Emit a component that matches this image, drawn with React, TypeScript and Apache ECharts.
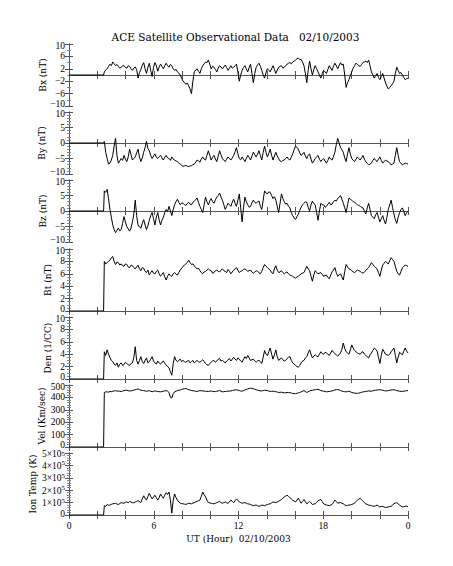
import React, { useEffect, useRef } from "react";
import * as echarts from "echarts";

// Time grid: flat zero until the data start, then samples every ~0.1 h
const startHour = 2.5;
const endHour = 24;
const flatEndHour = 2.45;

const xTickLabels = ["0", "6", "12", "18", "0"];

const bx = [
  1.0, 1.6, 2.0, 2.8, 3.5, 3.0, 4.2, 3.6, 3.0, 3.4, 2.8, 2.2, 2.5, 2.9, 3.0, 2.4, 2.2, 3.0, 2.8, 2.0,
  1.5, 2.2, 2.6, 1.8, -1.0, 0.8, 1.8, 3.2, 4.0, 2.0, 0.5, 2.5, 3.8, 1.5, -0.5, 2.5, 4.0, 3.0, 1.2, 2.6,
  3.5, 2.8, 2.0, 3.0, 3.8, 3.0, 2.5, 3.4, 3.0, 2.0, 1.5, 1.8, 1.0, 0.6, 0.0, -1.0, -2.0, -2.4, -3.0, -2.6,
  -3.5, -4.5, -6.0, -2.0, 1.0, 1.6, 2.0, 1.2, 0.5, 2.0, 3.0, 3.6, 4.2, 4.0, 4.8, 3.5, 2.0, 2.8, 2.5, 1.8,
  1.0, 2.2, 3.0, 2.6, 2.0, 2.6, 3.2, 2.4, 1.5, 2.2, 3.0, 2.2, 2.5, 3.0, 3.5, 1.0, -2.0, 0.0, 1.5, 2.4,
  3.0, 2.0, 1.0, 2.4, 3.5, 0.5, -2.5, 0.5, 2.5, 3.2, 3.8, 2.8, 1.5, 0.0, -1.0, 0.8, 2.0, 1.6, 1.0, 2.0,
  3.0, 1.8, 0.5, 1.6, 2.5, 2.8, 3.0, 2.2, 2.5, 3.0, 3.5, 3.8, 4.0, 3.6, 4.2, 4.5, 4.8, 5.2, 5.5, 5.0,
  5.0, 4.2, 3.0, 0.5, -2.5, 1.5, 4.5, 2.0, 0.0, 1.8, 3.0, 2.0, 1.0, 0.0, -1.0, 0.4, 1.5, 1.0, 0.5, 1.8,
  3.0, 2.2, 1.5, 2.8, 3.8, 3.0, 2.0, 3.0, 4.0, 3.2, 3.5, 0.0, -4.0, -2.5, -1.5, -0.2, 1.0, 2.2, 3.0, 3.8,
  3.5, 3.0, 2.8, 3.4, 4.0, 4.2, 4.5, 4.0, 4.8, 3.0, 1.0, 0.0, -1.0, -0.2, 0.5, -0.8, -1.5, -0.5, 0.5, -1.0,
  -2.5, -3.6, -4.5, -4.0, -3.5, -2.8, -2.0, 0.5, 2.5, 1.5, 0.5, 0.8, 0.0, -0.8, -1.5, -1.2, -1.0,
];

const by = [
  0.5, -3.0, -5.0, -6.8, -6.5, -5.5, -4.0, -1.0, 1.5, -4.0, -6.5, -5.8, -5.0, -5.6, -4.0, -5.2, -6.0, -4.5, -2.0, -3.8,
  -5.5, -5.0, -4.5, -3.2, -2.0, -4.5, -6.0, -4.8, -3.0, -1.5, 0.5, -1.8, -2.5, -4.0, -5.0, -4.2, -3.5, -4.6, -5.0, -4.4,
  -4.0, -4.8, -5.5, -4.6, -4.0, -4.8, -5.0, -5.6, -4.5, -5.2, -5.5, -5.8, -6.0, -6.5, -6.8, -7.2, -7.5, -7.4, -7.2, -7.5,
  -7.6, -7.4, -7.3, -7.0, -6.8, -6.2, -5.5, -5.8, -6.2, -5.2, -4.5, -5.2, -5.5, -4.0, -2.5, -4.0, -5.5, -4.6, -4.0, -5.2,
  -6.0, -4.2, -2.5, -3.8, -5.0, -5.6, -6.0, -5.2, -4.5, -5.0, -5.5, -4.8, -4.0, -2.8, -1.5, -3.5, -5.0, -5.4, -4.5, -5.2,
  -6.0, -5.0, -4.0, -4.6, -5.5, -4.2, -3.0, -3.8, -4.5, -3.6, -2.5, -4.0, -5.5, -3.0, -1.0, -3.0, -4.5, -3.4, -2.0, -4.0,
  -5.5, -4.2, -3.0, -4.2, -5.0, -5.8, -6.0, -5.6, -5.5, -5.0, -4.5, -5.2, -5.5, -4.6, -3.5, -2.2, -1.0, -1.4, -2.0, -3.2,
  -4.0, -3.6, -3.0, -4.2, -5.0, -4.0, -3.5, -5.2, -6.5, -5.8, -5.0, -4.4, -4.0, -5.2, -6.0, -5.4, -5.0, -5.8, -6.5, -5.6,
  -4.5, -5.2, -5.5, -4.4, -3.0, -0.5, 1.5, 0.0, -1.5, -2.2, -3.0, -4.8, -6.0, -3.5, -1.5, -3.6, -5.0, -5.6, -6.0, -5.2,
  -4.5, -5.0, -5.5, -4.8, -4.0, -5.2, -6.0, -6.6, -7.0, -6.8, -6.5, -5.6, -5.0, -5.6, -6.0, -5.2, -4.5, -5.6, -6.5, -6.0,
  -5.5, -5.8, -6.0, -6.6, -7.0, -6.8, -6.5, -4.0, -1.5, -4.0, -6.0, -6.6, -7.0, -6.8, -6.5, -6.6, -6.8,
];

const bz = [
  6.5, 6.0, 7.0, 4.0, 0.5, -2.0, -4.5, -6.0, -7.0, -6.2, -5.5, -6.4, -6.0, -4.0, -1.8, -3.5, -5.0, -5.8, -6.5, -5.5,
  -3.5, -1.0, 3.5, -1.5, -4.5, -5.2, -5.5, -4.0, -2.8, -4.5, -6.0, -4.8, -3.0, -1.5, -0.5, -2.5, -4.5, -2.0, -0.5, -2.8,
  -4.5, -3.0, -2.0, -0.5, 0.5, -0.2, 1.5, 0.0, -1.5, 0.5, 2.0, 3.0, 3.8, 2.8, 2.0, 2.6, 2.5, 2.0, 1.8, 2.4,
  2.8, 2.2, 2.0, 2.8, 3.2, 3.6, 4.2, 2.8, 1.5, 0.5, -0.5, 2.0, 4.5, 3.0, 2.0, 3.2, 4.0, 3.0, 2.5, 3.6,
  4.5, 5.0, 5.8, 4.5, 3.5, 2.0, 0.5, 1.5, 2.5, 2.0, 1.5, 2.8, 3.8, 2.5, 1.5, 3.5, 5.5, 1.0, -3.5, 1.0,
  4.5, 3.0, 2.0, 1.2, 1.5, 2.6, 3.5, 2.8, 2.5, 3.0, 3.2, 1.5, 0.5, 3.5, 6.5, 5.8, 5.5, 6.2, 6.0, 5.0,
  4.0, 4.6, 3.5, 1.5, -0.5, 2.5, 5.5, 4.0, 3.0, 2.2, 2.5, 1.5, 1.0, -0.5, -1.5, -2.2, -2.7, -1.8, -1.0, 0.2,
  1.2, 2.0, 2.5, 3.0, 2.8, 1.2, 0.0, 2.0, 3.2, 2.4, 2.0, -0.5, -3.0, 0.0, 2.5, 2.0, 2.0, 1.2, 1.5, 2.2,
  2.8, 2.0, 2.2, 3.0, 3.5, 3.2, 4.0, 4.5, 5.0, 3.8, 2.5, 1.0, -0.5, 2.0, 4.2, 3.8, 3.5, 3.0, 2.8, 2.4,
  2.0, 1.8, 1.5, 1.2, 1.0, 0.0, -1.0, 1.0, 2.5, 0.5, -1.5, -2.0, -2.5, -1.2, -0.5, -2.0, -3.5, -2.5, -1.5, -3.0,
  -4.2, -2.0, 0.5, 2.0, 3.5, 1.2, -1.0, -2.8, -4.0, -2.0, -0.5, 0.5, 1.0, -0.2, -1.5, -0.6, 0.0,
];

const bt = [
  8.0, 7.6, 7.8, 8.0, 8.2, 8.6, 8.8, 8.0, 7.5, 7.9, 7.8, 7.4, 7.6, 7.3, 7.2, 7.6, 7.5, 7.1, 7.0, 7.4,
  7.3, 7.0, 6.8, 7.1, 7.4, 6.8, 6.5, 7.0, 6.9, 6.4, 6.2, 6.6, 5.8, 6.2, 6.5, 6.1, 6.0, 6.4, 6.6, 6.0,
  5.6, 5.9, 6.2, 5.5, 5.0, 5.6, 6.0, 5.7, 5.6, 6.0, 6.2, 5.9, 5.8, 6.2, 6.6, 6.9, 7.2, 7.4, 7.6, 7.8,
  8.2, 7.8, 7.5, 7.6, 7.3, 7.0, 6.8, 6.9, 6.5, 6.2, 6.0, 6.3, 6.4, 6.6, 6.8, 6.6, 6.5, 6.1, 6.2, 6.5,
  6.6, 6.4, 6.3, 6.6, 6.8, 6.5, 6.4, 6.2, 6.7, 6.4, 6.0, 6.3, 6.6, 6.8, 7.0, 6.6, 6.2, 6.4, 6.5, 6.7,
  6.8, 6.6, 6.4, 6.5, 6.6, 6.3, 6.1, 6.3, 6.5, 6.4, 6.2, 6.0, 6.4, 7.0, 7.5, 7.2, 7.0, 6.8, 6.6, 6.2,
  6.0, 6.8, 7.3, 6.6, 6.2, 6.3, 6.5, 6.2, 6.0, 6.2, 6.3, 6.0, 5.8, 5.7, 5.6, 5.4, 5.3, 5.5, 5.6, 5.8,
  6.0, 6.1, 6.2, 6.7, 7.2, 6.8, 6.5, 5.6, 4.8, 5.8, 6.5, 6.2, 6.0, 6.1, 6.2, 5.9, 5.6, 5.7, 5.8, 5.4,
  5.2, 5.8, 6.3, 6.6, 7.0, 6.2, 5.6, 5.8, 6.0, 5.5, 5.0, 6.4, 7.5, 7.1, 6.8, 6.7, 6.5, 6.3, 6.2, 6.4,
  6.6, 6.5, 6.4, 6.2, 6.1, 6.3, 6.5, 6.8, 7.0, 7.4, 7.8, 7.5, 7.2, 7.0, 6.8, 6.2, 5.6, 6.6, 7.4, 7.7,
  8.0, 7.8, 7.6, 8.1, 8.6, 8.3, 8.0, 7.2, 6.4, 6.0, 5.8, 6.4, 7.0, 7.2, 7.4, 7.3, 7.2,
];

const den = [
  4.4, 3.8, 4.7, 4.0, 3.5, 3.0, 2.8, 2.4, 2.2, 2.6, 1.9, 2.4, 2.6, 2.2, 2.3, 2.7, 2.5, 2.3, 2.2, 2.5,
  2.6, 3.5, 5.2, 3.0, 2.4, 3.0, 3.6, 2.8, 2.5, 3.0, 3.4, 2.6, 2.8, 3.2, 3.6, 2.9, 2.6, 2.4, 2.9, 2.6,
  2.4, 2.7, 2.9, 2.5, 2.3, 2.0, 1.8, 1.2, 0.6, 2.5, 3.6, 3.0, 2.8, 3.0, 3.2, 2.8, 3.0, 2.8, 2.7, 2.9,
  3.0, 2.6, 2.8, 3.0, 2.6, 2.8, 3.0, 2.8, 2.7, 2.9, 3.1, 2.8, 2.5, 2.3, 2.2, 2.5, 2.7, 2.9, 3.0, 2.7,
  2.9, 3.2, 3.3, 2.9, 3.0, 2.8, 2.6, 2.9, 3.1, 3.3, 2.9, 3.2, 3.5, 3.2, 3.0, 3.4, 3.2, 2.9, 2.7, 3.2,
  3.6, 3.3, 3.8, 3.4, 3.0, 3.1, 3.2, 2.9, 2.7, 2.9, 3.0, 2.8, 2.5, 3.5, 4.6, 4.0, 3.8, 4.4, 5.0, 4.0,
  3.2, 3.9, 4.7, 3.6, 3.0, 3.2, 3.4, 3.1, 2.9, 3.0, 3.3, 3.5, 3.6, 3.0, 2.6, 2.4, 2.2, 2.0, 1.9, 2.2,
  2.6, 2.9, 3.0, 3.4, 3.6, 4.2, 4.7, 4.0, 3.4, 3.7, 3.9, 3.7, 3.6, 4.0, 4.4, 4.1, 4.0, 4.3, 4.2, 4.0,
  3.8, 4.2, 4.6, 4.3, 4.1, 3.9, 3.7, 3.9, 4.2, 4.8, 5.8, 4.9, 4.4, 4.2, 4.0, 4.7, 5.5, 5.0, 4.6, 4.4,
  4.2, 4.1, 4.0, 4.3, 4.4, 4.0, 3.8, 3.6, 3.4, 3.9, 4.2, 4.6, 5.0, 4.8, 4.5, 3.5, 2.5, 3.8, 4.8, 4.4,
  4.0, 3.9, 3.8, 4.0, 4.4, 4.7, 5.0, 3.8, 2.6, 3.5, 4.3, 4.1, 3.9, 4.5, 5.0, 4.5, 4.2,
];

const vel = [
  440, 444, 445, 442, 448, 446, 450, 452, 455, 450, 452, 449, 448, 451, 455, 457, 458, 454, 452, 453,
  455, 459, 462, 465, 468, 463, 458, 456, 455, 452, 450, 452, 454, 450, 446, 449, 452, 450, 448, 446,
  445, 447, 450, 452, 455, 450, 440, 400, 395, 430, 445, 450, 455, 458, 460, 464, 468, 470, 472, 466,
  462, 459, 456, 454, 452, 450, 448, 451, 455, 453, 452, 451, 450, 449, 448, 450, 452, 449, 446, 448,
  450, 452, 455, 450, 445, 446, 448, 449, 450, 451, 452, 455, 458, 460, 462, 458, 455, 452, 450, 455,
  460, 464, 468, 472, 475, 472, 470, 466, 462, 458, 455, 453, 452, 455, 458, 456, 455, 451, 448, 449,
  450, 448, 446, 443, 440, 441, 442, 439, 436, 438, 440, 439, 438, 435, 432, 431, 430, 433, 436, 440,
  445, 450, 455, 447, 440, 446, 452, 455, 458, 460, 462, 464, 465, 460, 455, 452, 450, 447, 445, 446,
  448, 450, 452, 456, 460, 462, 464, 460, 455, 451, 448, 446, 445, 447, 450, 445, 440, 437, 435, 433,
  432, 435, 438, 441, 445, 446, 448, 450, 452, 451, 450, 453, 456, 458, 460, 461, 462, 460, 458, 455,
  452, 453, 455, 458, 460, 461, 462, 458, 455, 452, 450, 449, 448, 450, 452, 454, 455,
];

const ionTemp = [
  75000, 70000, 85000, 78000, 80000, 86000, 90000, 92000, 95000, 88000, 85000, 92000, 100000, 96000, 95000, 102000, 105000, 98000, 110000, 104000,
  100000, 98000, 105000, 110000, 115000, 108000, 100000, 130000, 155000, 135000, 120000, 150000, 175000, 150000, 130000, 145000, 160000, 140000, 120000, 140000,
  170000, 150000, 135000, 160000, 180000, 165000, 185000, 120000, 15000, 120000, 170000, 140000, 120000, 105000, 95000, 92000, 90000, 88000, 85000, 90000,
  95000, 92000, 90000, 96000, 100000, 105000, 110000, 115000, 120000, 150000, 185000, 165000, 145000, 120000, 100000, 98000, 95000, 92000, 90000, 95000,
  100000, 105000, 110000, 100000, 95000, 100000, 105000, 98000, 95000, 105000, 120000, 110000, 100000, 115000, 130000, 118000, 105000, 100000, 95000, 98000,
  100000, 95000, 90000, 88000, 85000, 80000, 75000, 78000, 80000, 75000, 70000, 75000, 80000, 78000, 75000, 80000, 85000, 88000, 90000, 98000,
  105000, 102000, 100000, 105000, 110000, 118000, 125000, 135000, 145000, 152000, 160000, 150000, 140000, 130000, 120000, 112000, 105000, 120000, 135000, 115000,
  95000, 110000, 125000, 108000, 90000, 100000, 110000, 98000, 85000, 88000, 90000, 102000, 115000, 120000, 125000, 108000, 90000, 85000, 80000, 78000,
  75000, 80000, 85000, 100000, 120000, 108000, 95000, 98000, 100000, 95000, 90000, 82000, 75000, 78000, 80000, 82000, 85000, 90000, 95000, 108000,
  120000, 128000, 135000, 122000, 110000, 100000, 90000, 85000, 80000, 78000, 75000, 72000, 70000, 75000, 80000, 72000, 65000, 68000, 70000, 65000,
  60000, 62000, 65000, 68000, 70000, 80000, 90000, 95000, 100000, 90000, 80000, 72000, 65000, 68000, 70000, 72000, 68000,
];

const TITLE_FONT = "DejaVu Serif";
const TICK_FONT = "Liberation Serif";
const AXIS_COLOR = "#555";

function toPoints(vals: number[]) {
  const step = (endHour - startHour) / (vals.length - 1);
  const pts: number[][] = [
    [0, 0],
    [flatEndHour, 0],
  ];
  vals.forEach((v, i) => pts.push([startHour + i * step, v]));
  return pts;
}

const minusText = (v: number) => (v < 0 ? "\u2212" + Math.abs(v) : String(v));

function plainFmt(min: number, max: number) {
  return (v: number) => {
    const s = minusText(v);
    if (v === max) return `{t|${s}}`;
    if (v === min) return `{m|${s}}`;
    return `{n|${s}}`;
  };
}

function tempFmt(min: number, max: number) {
  return (v: number) => {
    if (v === min) return `{z|0}`;
    const base = `${v / 100000}\u00d710`;
    if (v === max) return `{tb|${base}}{ts|5}`;
    return `{b|${base}}{s|5}`;
  };
}

const panels = [
  { name: "Bx (nT)", data: bx, min: -10, max: 10, interval: 4, minor: 2, gap: 22, temp: false },
  { name: "By (nT)", data: by, min: -10, max: 10, interval: 5, minor: 5, gap: 23, temp: false },
  { name: "Bz (nT)", data: bz, min: -10, max: 10, interval: 5, minor: 5, gap: 22, temp: false },
  { name: "Bt (nT)", data: bt, min: 0, max: 10, interval: 2, minor: 4, gap: 17, temp: false },
  { name: "Den (1/CC)", data: den, min: 0, max: 10, interval: 2, minor: 4, gap: 17, temp: false },
  { name: "Vel (Km/sec)", data: vel, min: 0, max: 500, interval: 100, minor: 5, gap: 23, temp: false },
  { name: "Ion Temp (K)", data: ionTemp, min: 0, max: 500000, interval: 100000, minor: 5, gap: 32, temp: true },
];

const tops = [44, 112, 180, 249, 317, 385, 453];
const panelHeight = 62;

const TICK_SIZE = 9.5;
const SUP_SIZE = 7;
const richStyles = {
  n: { fontFamily: TICK_FONT, fontSize: TICK_SIZE, color: "#000", lineHeight: 10 },
  t: { fontFamily: TICK_FONT, fontSize: TICK_SIZE, color: "#000", lineHeight: 10, padding: [4, 0, 0, 0] },
  m: { fontFamily: TICK_FONT, fontSize: TICK_SIZE, color: "#000", lineHeight: 10, padding: [0, 0, 4, 0] },
  z: { fontFamily: TICK_FONT, fontSize: TICK_SIZE, color: "#000", lineHeight: 10, padding: [0, 0, 3, 0] },
  b: { fontFamily: TICK_FONT, fontSize: TICK_SIZE, color: "#000", lineHeight: 11, verticalAlign: "bottom" },
  s: { fontFamily: TICK_FONT, fontSize: SUP_SIZE, color: "#000", lineHeight: 11, verticalAlign: "top" },
  tb: { fontFamily: TICK_FONT, fontSize: TICK_SIZE, color: "#000", lineHeight: 11, verticalAlign: "bottom", padding: [3, 0, 0, 0] },
  ts: { fontFamily: TICK_FONT, fontSize: SUP_SIZE, color: "#000", lineHeight: 11, verticalAlign: "top", padding: [3, 0, 0, 0] },
};

export default function App() {
  const ref = useRef<HTMLDivElement>(null);

  useEffect(() => {
    if (!ref.current) return;
    const chart = echarts.init(ref.current, null, { renderer: "svg" });

    const grid: any[] = [];
    const xAxis: any[] = [];
    const yAxis: any[] = [];
    const series: any[] = [];

    const lineBase = { show: true, lineStyle: { color: AXIS_COLOR, width: 1 } };

    panels.forEach((p, k) => {
      const last = k === panels.length - 1;
      grid.push({ left: 69, right: 45, top: tops[k], height: panelHeight, containLabel: false });

      const xCommon = {
        type: "value",
        gridIndex: k,
        min: 0,
        max: 24,
        interval: 6,
        axisLine: lineBase,
        axisTick: { show: true, inside: true, length: 4, lineStyle: { color: AXIS_COLOR } },
        minorTick: { show: true, splitNumber: 3, length: 4, lineStyle: { color: AXIS_COLOR } },
        splitLine: { show: false },
      };
      xAxis.push({
        ...xCommon,
        position: "bottom",
        axisLabel: {
          show: last,
          fontFamily: TICK_FONT,
          fontSize: 9.5,
          color: "#000",
          margin: 6,
          showMinLabel: true,
          showMaxLabel: true,
          formatter: (v: number) => xTickLabels[Math.round(v / 6)] ?? "",
        },
        name: last ? "UT (Hour)  02/10/2003" : "",
        nameLocation: "middle",
        nameGap: 19,
        nameTextStyle: { fontFamily: TITLE_FONT, fontSize: 9, color: "#000" },
      });
      xAxis.push({ ...xCommon, position: "top", axisLabel: { show: false } });

      const yCommon = {
        type: "value",
        gridIndex: k,
        min: p.min,
        max: p.max,
        interval: p.interval,
        axisLine: lineBase,
        axisTick: { show: true, inside: true, length: 4, lineStyle: { color: AXIS_COLOR } },
        minorTick: { show: true, splitNumber: p.minor, length: 2, lineStyle: { color: "#888" } },
        splitLine: { show: false },
      };
      yAxis.push({
        ...yCommon,
        position: "left",
        axisLabel: {
          show: true,
          showMinLabel: true,
          showMaxLabel: true,
          hideOverlap: false,
          fontFamily: TICK_FONT,
          fontSize: TICK_SIZE,
          color: "#000",
          margin: 4,
          formatter: p.temp ? tempFmt(p.min, p.max) : plainFmt(p.min, p.max),
          rich: richStyles,
        },
        name: p.name,
        nameLocation: "middle",
        nameGap: p.gap,
        nameRotate: 90,
        nameMoveOverlap: false,
        nameTextStyle: { fontFamily: TITLE_FONT, fontSize: 9, color: "#000" },
      });
      yAxis.push({ ...yCommon, position: "right", axisLabel: { show: false } });

      series.push({
        type: "line",
        xAxisIndex: 2 * k,
        yAxisIndex: 2 * k,
        data: toPoints(p.data),
        showSymbol: false,
        symbol: "none",
        silent: true,
        lineStyle: { color: "#000", width: 1 },
      });
    });

    chart.setOption({
      animation: false,
      backgroundColor: "#fff",
      grid,
      xAxis,
      yAxis,
      series,
      graphic: [
        {
          type: "text",
          x: 235.5,
          y: 37,
          style: {
            text: "ACE Satellite Observational Data   02/10/2003",
            fontFamily: TITLE_FONT,
            fontSize: 10.5,
            fill: "#000",
            textAlign: "center",
            textVerticalAlign: "middle",
          },
        },
      ],
    });

    return () => chart.dispose();
  }, []);

  return (
    <div
      ref={ref}
      style={{ position: "absolute", left: 0, top: 0, width: 453, height: 566, background: "#fff" }}
    />
  );
}
